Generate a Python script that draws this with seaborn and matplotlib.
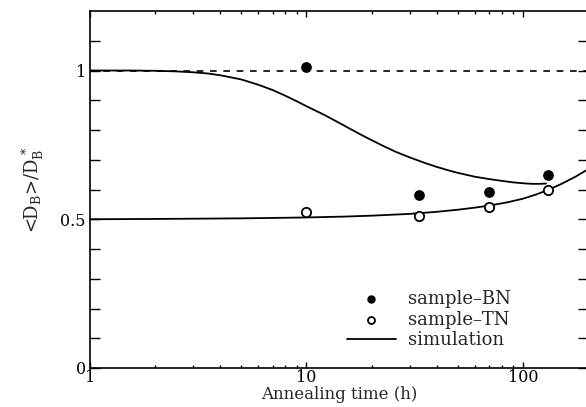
import numpy as np
import pandas as pd
import matplotlib
matplotlib.use("Agg")
import matplotlib.pyplot as plt
import seaborn as sns
from matplotlib.ticker import FixedLocator, NullFormatter

# measured points (annealing time in h, <D_B>/D_B*)
bn_time = [10, 33, 70, 130]
bn_ratio = [1.013, 0.58, 0.59, 0.65]
tn_time = [10, 33, 70, 130]
tn_ratio = [0.524, 0.511, 0.54, 0.60]

# simulation curves
sim_bn_time = [1, 1.5, 2, 2.5, 3, 3.5, 4, 5, 6, 7, 8, 9, 10, 12, 14, 16, 18, 20, 23, 26,
               30, 35, 40, 45, 50, 60, 70, 80, 90, 100, 110, 120, 128]
sim_bn_ratio = [1.0, 1.0, 0.999, 0.997, 0.994, 0.99, 0.984, 0.97, 0.952, 0.934, 0.915,
                0.897, 0.88, 0.852, 0.826, 0.803, 0.783, 0.766, 0.744, 0.726, 0.708, 0.69,
                0.676, 0.665, 0.656, 0.643, 0.635, 0.629, 0.624, 0.621, 0.619, 0.619, 0.62]
sim_tn_time = [1, 2, 5, 10, 15, 20, 30, 40, 50, 60, 70, 85, 100, 115, 130, 150, 175, 200]
sim_tn_ratio = [0.5, 0.501, 0.503, 0.506, 0.509, 0.512, 0.518, 0.525, 0.532, 0.539,
                0.546, 0.557, 0.569, 0.583, 0.598, 0.618, 0.643, 0.668]

ref_level = 1.0
x_ticks = [1, 10, 100]
x_labels = ["1", "10", "100"]
y_ticks = [0, 0.5, 1]
y_labels = ["0", "0.5", "1"]

sns.set_theme(style="ticks")
plt.rcParams["font.family"] = ["DejaVu Serif"]
plt.rcParams["mathtext.fontset"] = "dejavuserif"

fig = plt.figure(figsize=(5.86, 4.07), dpi=100)
# right spine sits just past the image edge, as in the cropped original
ax = fig.add_axes([90 / 586, 39 / 407, 498 / 586, 357 / 407])

ax.axhline(ref_level, color="black", lw=1.2, dashes=(4, 4), zorder=1)

sns.lineplot(x=sim_bn_time, y=sim_bn_ratio, ax=ax, color="black", lw=1.3,
             label="simulation", sort=False)
sns.lineplot(x=sim_tn_time, y=sim_tn_ratio, ax=ax, color="black", lw=1.3, sort=False)

sns.scatterplot(x=bn_time, y=bn_ratio, ax=ax, marker="o", s=45, color="black",
                edgecolor="black", linewidth=1.0, label="sample\u2013BN", zorder=3)
sns.scatterplot(x=tn_time, y=tn_ratio, ax=ax, marker="o", s=45, facecolor="white",
                edgecolor="black", linewidth=1.3, label="sample\u2013TN", zorder=3)

ax.set_xscale("log")
ax.set_xlim(1, 200)
ax.set_ylim(0, 1.2)

ax.xaxis.set_major_locator(FixedLocator(x_ticks))
ax.set_xticklabels(x_labels)
ax.xaxis.set_minor_locator(FixedLocator([2, 3, 4, 5, 6, 7, 8, 9, 20, 30, 40, 50, 60, 70, 80, 90, 200]))
ax.xaxis.set_minor_formatter(NullFormatter())
ax.yaxis.set_major_locator(FixedLocator(y_ticks))
ax.set_yticklabels(y_labels)
ax.yaxis.set_minor_locator(FixedLocator([0.1, 0.2, 0.3, 0.4, 0.6, 0.7, 0.8, 0.9, 1.1]))

ax.tick_params(axis="both", which="both", direction="in", top=True, right=True,
               color="black", labelsize=11.5, labelcolor="black")
ax.tick_params(axis="x", which="major", length=4.5, width=1.0, pad=1)
ax.tick_params(axis="x", which="minor", length=2.5, width=1.0)
ax.tick_params(axis="y", which="both", length=7, width=1.0, pad=3)

for sp in ax.spines.values():
    sp.set_linewidth(1.2)
    sp.set_color("black")

ax.set_xlabel("Annealing time (h)", fontsize=12, labelpad=-0.5)
ax.set_ylabel("<D$_\\mathrm{B}$>/D$_\\mathrm{B}^{\\,*}$", fontsize=13, labelpad=10)

handles, labels = ax.get_legend_handles_labels()
order = [labels.index("sample\u2013BN"), labels.index("sample\u2013TN"), labels.index("simulation")]
ax.legend([handles[i] for i in order], [labels[i] for i in order],
          loc="upper left", bbox_to_anchor=((347 - 90) / 498, (368 - 290) / 357),
          frameon=False, fontsize=13, borderpad=0, borderaxespad=0, markerscale=0.75,
          handlelength=2.7, handletextpad=0.7, labelspacing=0.15)

fig.savefig("out.png", dpi=100)
